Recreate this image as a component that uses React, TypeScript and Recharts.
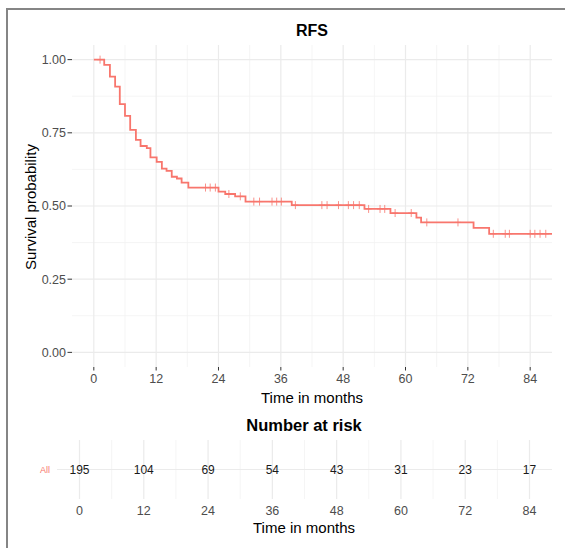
import React from 'react';
import { ComposedChart, Line, Scatter, XAxis, YAxis, ReferenceLine } from 'recharts';

const times = [0, 2.0, 3.1, 4.1, 5.0, 6.0, 7.0, 8.1, 9.0, 10.2, 10.9, 12.1, 13.1, 14.0, 15.0, 16.0, 16.9, 18.2, 24.0, 25.3, 27.2, 29.2, 38.1, 52.1, 57.1, 62.1, 63.0, 73.1, 76.1, 88.2];
const survival = [1.0, 0.982, 0.942, 0.908, 0.848, 0.808, 0.76, 0.726, 0.705, 0.698, 0.666, 0.651, 0.628, 0.62, 0.6, 0.594, 0.58, 0.563, 0.549, 0.541, 0.533, 0.515, 0.503, 0.49, 0.476, 0.46, 0.444, 0.425, 0.405, 0.405];

const censorTimes = [1.2, 21.5, 22.4, 23.4, 26.0, 28.2, 30.8, 31.9, 34.3, 35.2, 36.1, 38.8, 43.9, 44.9, 47.1, 49.0, 50.0, 51.1, 52.9, 55.1, 56.0, 58.0, 61.1, 64.1, 70.1, 76.9, 79.2, 80.0, 84.0, 84.9, 85.9, 87.0];
const censorSurv = [1.0, 0.563, 0.563, 0.563, 0.541, 0.533, 0.515, 0.515, 0.515, 0.515, 0.515, 0.503, 0.503, 0.503, 0.503, 0.503, 0.503, 0.503, 0.49, 0.49, 0.49, 0.476, 0.476, 0.444, 0.444, 0.405, 0.405, 0.405, 0.405, 0.405, 0.405, 0.405];

const xTicks = [0, 12, 24, 36, 48, 60, 72, 84];
const xMinor = [6, 18, 30, 42, 54, 66, 78];
const yTicks = [0, 0.25, 0.5, 0.75, 1];
const yMinor = [0.125, 0.375, 0.625, 0.875];

const riskTimes = [0, 12, 24, 36, 48, 60, 72, 84];
const riskCounts = [195, 104, 69, 54, 43, 31, 23, 17];

const RED = '#F8766D';
const FONT = '"Liberation Sans", Arial, Helvetica, sans-serif';
const X_DOMAIN = [-4.2, 88.2];
const MAJOR = '#EBEBEB';
const MINOR = '#F3F3F3';

const curveData = times.map((t, i) => ({ t, s: survival[i] }));
const censorData = censorTimes.map((t, i) => ({ t, s: censorSurv[i] }));
const riskData = riskTimes.map((t, i) => ({ t, y: 0, n: riskCounts[i] }));

const CensorMark = (props: any) => {
  const { cx, cy } = props;
  if (cx == null || cy == null) return null;
  return (
    <path d={`M${cx - 3},${cy} h6 M${cx},${cy - 4} v8`} stroke={RED} strokeWidth={1} strokeOpacity={0.8} fill="none" />
  );
};

const RiskText = (props: any) => {
  const { cx, cy, payload } = props;
  if (cx == null || cy == null) return null;
  return (
    <text x={cx} y={cy} textAnchor="middle" dominantBaseline="central" fontSize={12} fill="#1a1a1a" fontFamily={FONT}>
      {payload.n}
    </text>
  );
};

const Label = ({ x, y, size, bold, rotate, children }: any) => (
  <div
    style={{
      position: 'absolute',
      left: x,
      top: y,
      transform: `translate(-50%, -50%)${rotate ? ' rotate(-90deg)' : ''}`,
      fontFamily: FONT,
      fontSize: size,
      fontWeight: bold ? 'bold' : 'normal',
      lineHeight: 1,
      whiteSpace: 'nowrap',
      color: '#000',
    }}
  >
    {children}
  </div>
);

export default function App() {
  return (
    <div style={{ position: 'absolute', left: 0, top: 0, width: 565, height: 548, background: '#fff', overflow: 'hidden', fontFamily: FONT }}>
      <div style={{ position: 'absolute', left: 6, top: 8, width: 2, height: 540, background: '#858585' }} />
      <div style={{ position: 'absolute', left: 6, top: 8, width: 559, height: 2, background: '#858585' }} />

      <div style={{ position: 'absolute', left: 0, top: 0 }}>
        <ComposedChart width={565} height={420} data={curveData} margin={{ top: 45, right: 13, bottom: 0, left: 0 }}>
          {xMinor.map((v) => (
            <ReferenceLine key={'xm' + v} x={v} stroke={MINOR} strokeWidth={0.8} />
          ))}
          {yMinor.map((v) => (
            <ReferenceLine key={'ym' + v} y={v} stroke={MINOR} strokeWidth={0.8} />
          ))}
          {xTicks.map((v) => (
            <ReferenceLine key={'xM' + v} x={v} stroke={MAJOR} strokeWidth={1.2} />
          ))}
          {yTicks.map((v) => (
            <ReferenceLine key={'yM' + v} y={v} stroke={MAJOR} strokeWidth={1.2} />
          ))}
          <XAxis
            type="number"
            dataKey="t"
            domain={X_DOMAIN}
            ticks={xTicks}
            allowDataOverflow
            height={53}
            axisLine={false}
            tickLine={{ stroke: '#333', strokeWidth: 1 }}
            tickSize={3.5}
            tickMargin={4}
            tick={{ fill: '#4D4D4D', fontSize: 12.5, fontFamily: FONT }}
            interval={0}
          />
          <YAxis
            type="number"
            dataKey="s"
            domain={[-0.05, 1.05]}
            ticks={yTicks}
            allowDataOverflow
            width={72}
            axisLine={false}
            tickLine={{ stroke: '#333', strokeWidth: 1 }}
            tickSize={4.5}
            tickMargin={1.5}
            tick={{ fill: '#4D4D4D', fontSize: 12.5, fontFamily: FONT }}
            tickFormatter={(v: number) => v.toFixed(2)}
            interval={0}
          />
          <Line type="stepAfter" dataKey="s" stroke={RED} strokeWidth={1.8} dot={false} activeDot={false} isAnimationActive={false} />
          <Scatter data={censorData} dataKey="s" shape={CensorMark} isAnimationActive={false} />
        </ComposedChart>
      </div>

      <div style={{ position: 'absolute', left: 0, top: 420 }}>
        <ComposedChart width={565} height={128} data={riskData} margin={{ top: 20, right: 13, bottom: 0, left: 0 }}>
          {xMinor.map((v) => (
            <ReferenceLine key={'rm' + v} x={v} stroke={MINOR} strokeWidth={0.8} />
          ))}
          {xTicks.map((v) => (
            <ReferenceLine key={'rM' + v} x={v} stroke={MAJOR} strokeWidth={1.2} />
          ))}
          <ReferenceLine y={0} stroke={MAJOR} strokeWidth={1.2} />
          <XAxis
            type="number"
            dataKey="t"
            domain={X_DOMAIN}
            ticks={xTicks}
            allowDataOverflow
            height={49}
            axisLine={false}
            tickLine={false}
            tickSize={0}
            tickMargin={7}
            tick={{ fill: '#4D4D4D', fontSize: 12.5, fontFamily: FONT }}
            interval={0}
          />
          <YAxis
            type="number"
            dataKey="y"
            domain={[-1, 1]}
            ticks={[0]}
            width={57}
            axisLine={false}
            tickLine={false}
            tickSize={0}
            tickMargin={7}
            tick={{ fill: RED, fontSize: 9, fontFamily: FONT }}
            tickFormatter={() => 'All'}
            interval={0}
          />
          <Scatter data={riskData} dataKey="y" shape={RiskText} isAnimationActive={false} />
        </ComposedChart>
      </div>

      <Label x={312} y={31} size={16} bold>RFS</Label>
      <Label x={30} y={207} size={15} rotate>Survival probability</Label>
      <Label x={312} y={397} size={15}>Time in months</Label>
      <Label x={304} y={425} size={16.5} bold>Number at risk</Label>
      <Label x={304} y={527} size={15}>Time in months</Label>
    </div>
  );
}
